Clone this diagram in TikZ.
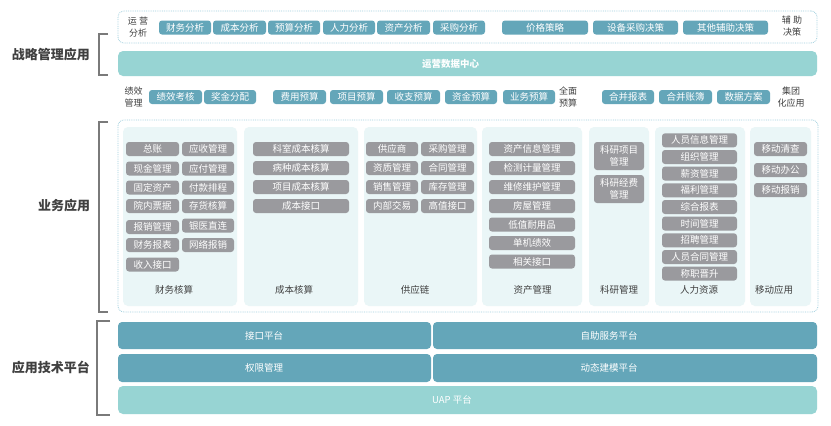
\documentclass[tikz,border=0pt]{standalone}
\usepackage{fontspec}
\setmainfont{Noto Sans CJK SC}
\definecolor{chipteal}{HTML}{64A6B9}
\definecolor{bandteal}{HTML}{97D4D3}
\definecolor{chipgray}{HTML}{9A9A9E}
\definecolor{panelbg}{HTML}{EAF6F7}
\definecolor{dotblue}{HTML}{9FCFDD}
\definecolor{txtdark}{HTML}{404040}
\definecolor{brk}{HTML}{7A7A7A}
\tikzset{
  chipbase/.style={rounded corners=3pt, text=white, inner sep=0pt, minimum height=14pt,
    font=\fontsize{9.5}{10}\selectfont},
  tchip/.style={chipbase, fill=chipteal},
  gchip/.style={chipbase, fill=chipgray},
  gtall/.style={gchip, minimum height=28pt, align=center, font=\fontsize{9.5}{11.5}\selectfont},
  panel/.style={fill=panelbg, rounded corners=5pt, inner sep=0pt, minimum height=179pt},
  dotbox/.style={draw=dotblue, densely dotted, line width=0.8pt, rounded corners=6pt, inner sep=0pt},
  grplabel/.style={text=txtdark, align=center, inner sep=0pt, font=\fontsize{9}{12}\selectfont},
  ptitle/.style={text=txtdark, inner sep=0pt, font=\fontsize{9.5}{10}\selectfont},
  biglabel/.style={text=txtdark, inner sep=0pt, font=\fontsize{13}{14}\selectfont\bfseries},
  plat/.style={fill=chipteal, rounded corners=4pt, text=white, inner sep=0pt,
    minimum height=27pt, font=\fontsize{9.5}{10}\selectfont},
  bandbox/.style={fill=bandteal, rounded corners=5pt, text=white, inner sep=0pt,
    font=\fontsize{9.5}{10}\selectfont},
  bracket/.style={draw=brk, line width=1.1pt},
}
\begin{document}
\begin{tikzpicture}[x=1pt,y=-1pt]
\useasboundingbox[fill=white] (0,0) rectangle (831,426);

% ---------- strategic management ----------
\node[dotbox, fill=white, minimum width=699pt, minimum height=32pt] (topbox) at (467.5,27) {};
\node[bandbox, minimum width=699pt, minimum height=25pt, font=\fontsize{9.5}{10}\selectfont\bfseries] (band) at (467.5,63.5) {运营数据中心\hspace*{34pt}};
\draw[bracket] (108,34) -- (99,34) -- (99,75) -- (108,75);
\node[biglabel] (lbl1) at (51,55) {战略管理应用};

\node[grplabel] (g1) at (138,27) {运 营\\分析};
\node[tchip, minimum width=52pt] (a1) at (185,27.5) {财务分析};
\node[tchip, minimum width=53pt] (a2) at (239.5,27.5) {成本分析};
\node[tchip, minimum width=52pt] (a3) at (294,27.5) {预算分析};
\node[tchip, minimum width=52pt] (a4) at (349,27.5) {人力分析};
\node[tchip, minimum width=53pt] (a5) at (403.5,27.5) {资产分析};
\node[tchip, minimum width=52pt] (a6) at (459,27.5) {采购分析};
\node[tchip, minimum width=86pt] (a7) at (545,27.5) {价格策略};
\node[tchip, minimum width=85pt] (a8) at (635.5,27.5) {设备采购决策};
\node[tchip, minimum width=85pt] (a9) at (725.5,27.5) {其他辅助决策};
\node[grplabel] (g2) at (792,26) {辅 助\\决策};

\node[grplabel] (g3) at (133.5,97) {绩效\\管理};
\node[tchip, minimum width=53pt] (b1) at (175.5,97) {绩效考核};
\node[tchip, minimum width=52pt] (b2) at (230,97) {奖金分配};
\node[tchip, minimum width=53pt] (b3) at (299.5,97) {费用预算};
\node[tchip, minimum width=53pt] (b4) at (356.5,97) {项目预算};
\node[tchip, minimum width=53pt] (b5) at (413.5,97) {收支预算};
\node[tchip, minimum width=52pt] (b6) at (471,97) {资金预算};
\node[tchip, minimum width=52pt] (b7) at (529,97) {业务预算};
\node[grplabel] (g4) at (568,97) {全面\\预算};
\node[tchip, minimum width=52pt] (b8) at (628,97) {合并报表};
\node[tchip, minimum width=53pt] (b9) at (685.5,97) {合并账簿};
\node[tchip, minimum width=53pt] (b10) at (743.5,97) {数据方案};
\node[grplabel] (g5) at (791,97) {集团\\化应用};

% ---------- business applications ----------
\node[dotbox, minimum width=700pt, minimum height=192pt] (midbox) at (468,216) {};
\draw[bracket] (108,122) -- (99,122) -- (99,312) -- (108,312);
\node[biglabel] (lbl2) at (64,206) {业务应用};

\node[panel, minimum width=114pt] (pA) at (180,216.5) {};
\node[panel, minimum width=114pt] (pB) at (301,216.5) {};
\node[panel, minimum width=113pt] (pC) at (420.5,216.5) {};
\node[panel, minimum width=100pt] (pD) at (532,216.5) {};
\node[panel, minimum width=60pt] (pE) at (619,216.5) {};
\node[panel, minimum width=90pt] (pF) at (700,216.5) {};
\node[panel, minimum width=61pt] (pG) at (780.5,216.5) {};

\node[ptitle] (tA) at (174,290) {财务核算};
\node[ptitle] (tB) at (294,290) {成本核算};
\node[ptitle] (tC) at (415,290) {供应链};
\node[ptitle] (tD) at (532.5,290) {资产管理};
\node[ptitle] (tE) at (619,290) {科研管理};
\node[ptitle] (tF) at (699,290) {人力资源};
\node[ptitle] (tG) at (774,290) {移动应用};

% finance
\node[gchip, minimum width=53pt] (fa1) at (152.5,149) {总账};
\node[gchip, minimum width=53pt] (fa2) at (152.5,168.5) {现金管理};
\node[gchip, minimum width=53pt] (fa3) at (152.5,187.5) {固定资产};
\node[gchip, minimum width=53pt] (fa4) at (152.5,206) {院内票据};
\node[gchip, minimum width=53pt] (fa5) at (152.5,227) {报销管理};
\node[gchip, minimum width=53pt] (fa6) at (152.5,245) {财务报表};
\node[gchip, minimum width=53pt] (fa7) at (152.5,264.5) {收入接口};
\node[gchip, minimum width=52pt] (fb1) at (208,149) {应收管理};
\node[gchip, minimum width=52pt] (fb2) at (208,168.5) {应付管理};
\node[gchip, minimum width=52pt] (fb3) at (208,187.5) {付款排程};
\node[gchip, minimum width=52pt] (fb4) at (208,206) {存货核算};
\node[gchip, minimum width=52pt] (fb5) at (208,225.5) {银医直连};
\node[gchip, minimum width=52pt] (fb6) at (208,245) {网络报销};

% cost
\node[gchip, minimum width=96pt] (c1) at (301,149) {科室成本核算};
\node[gchip, minimum width=96pt] (c2) at (301,168) {病种成本核算};
\node[gchip, minimum width=96pt] (c3) at (301,187) {项目成本核算};
\node[gchip, minimum width=96pt] (c4) at (301,206) {成本接口};

% supply chain
\node[gchip, minimum width=52pt] (sa1) at (392,149) {供应商};
\node[gchip, minimum width=52pt] (sa2) at (392,168) {资质管理};
\node[gchip, minimum width=52pt] (sa3) at (392,187) {销售管理};
\node[gchip, minimum width=52pt] (sa4) at (392,206) {内部交易};
\node[gchip, minimum width=53pt] (sb1) at (447.5,149) {采购管理};
\node[gchip, minimum width=53pt] (sb2) at (447.5,168) {合同管理};
\node[gchip, minimum width=53pt] (sb3) at (447.5,187) {库存管理};
\node[gchip, minimum width=53pt] (sb4) at (447.5,206) {高值接口};

% assets
\node[gchip, minimum width=86pt] (d1) at (532,149) {资产信息管理};
\node[gchip, minimum width=86pt] (d2) at (532,168) {检测计量管理};
\node[gchip, minimum width=86pt] (d3) at (532,187) {维修维护管理};
\node[gchip, minimum width=86pt] (d4) at (532,206) {房屋管理};
\node[gchip, minimum width=86pt] (d5) at (532,224.5) {低值耐用品};
\node[gchip, minimum width=86pt] (d6) at (532,243) {单机绩效};
\node[gchip, minimum width=86pt] (d7) at (532,261.5) {相关接口};

% research
\node[gtall, minimum width=50pt] (e1) at (619,156) {科研项目\\管理};
\node[gtall, minimum width=50pt] (e2) at (619,189) {科研经费\\管理};

% HR
\node[gchip, minimum width=75pt] (h1) at (699.5,140.3) {人员信息管理};
\node[gchip, minimum width=75pt] (h2) at (699.5,157) {组织管理};
\node[gchip, minimum width=75pt] (h3) at (699.5,173.6) {薪资管理};
\node[gchip, minimum width=75pt] (h4) at (699.5,190.3) {福利管理};
\node[gchip, minimum width=75pt] (h5) at (699.5,207) {综合报表};
\node[gchip, minimum width=75pt] (h6) at (699.5,223.6) {时间管理};
\node[gchip, minimum width=75pt] (h7) at (699.5,240.3) {招聘管理};
\node[gchip, minimum width=75pt] (h8) at (699.5,257) {人员合同管理};
\node[gchip, minimum width=75pt] (h9) at (699.5,273.6) {称职晋升};

% mobile
\node[gchip, minimum width=53pt] (m1) at (780.5,149) {移动清查};
\node[gchip, minimum width=53pt] (m2) at (780.5,170) {移动办公};
\node[gchip, minimum width=53pt] (m3) at (780.5,190) {移动报销};

% ---------- application technology platform ----------
\draw[bracket] (110,321) -- (97,321) -- (97,415) -- (110,415);
\node[biglabel] (lbl3) at (51,367) {应用技术平台};
\node[plat, minimum width=313pt] (p1) at (274.5,335.5) {接口平台\hspace*{21pt}};
\node[plat, minimum width=384pt] (p2) at (625,335.5) {自助服务平台\hspace*{32pt}};
\node[plat, minimum width=313pt, minimum height=28pt] (p3) at (274.5,368) {权限管理\hspace*{21pt}};
\node[plat, minimum width=384pt, minimum height=28pt] (p4) at (625,368) {动态建模平台\hspace*{32pt}};
\node[bandbox, minimum width=699pt, minimum height=28pt] (uap) at (467.5,400) {UAP 平台\hspace*{31pt}};
\end{tikzpicture}
\end{document}
